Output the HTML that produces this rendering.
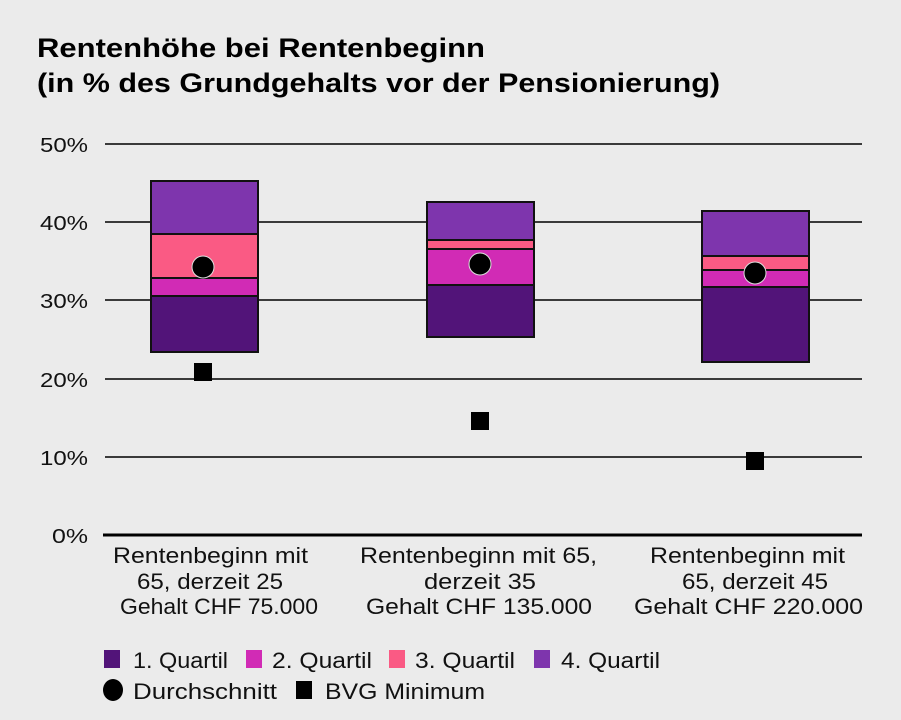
<!DOCTYPE html>
<html><head><meta charset="utf-8"><style>
html,body{margin:0;padding:0;background:#ebebeb;}
svg{display:block;font-family:"Liberation Sans",sans-serif;}
</style></head><body>
<svg width="901" height="720" viewBox="0 0 901 720" xmlns="http://www.w3.org/2000/svg">
<rect width="901" height="720" fill="#ebebeb"/>
<text x="37" y="57" font-size="27" font-weight="bold" textLength="448" lengthAdjust="spacingAndGlyphs">Rentenhöhe bei Rentenbeginn</text>
<text x="37" y="92" font-size="27" font-weight="bold" textLength="683" lengthAdjust="spacingAndGlyphs">(in % des Grundgehalts vor der Pensionierung)</text>
<g stroke="#3a3a3a" stroke-width="2">
<line x1="105" y1="144" x2="862" y2="144"/>
<line x1="105" y1="222" x2="862" y2="222"/>
<line x1="105" y1="300" x2="862" y2="300"/>
<line x1="105" y1="379" x2="862" y2="379"/>
<line x1="105" y1="457" x2="862" y2="457"/>
</g>
<line x1="103" y1="535" x2="862" y2="535" stroke="#000" stroke-width="3"/>
<g font-size="20" fill="#111">
<text x="40" y="152" textLength="48" lengthAdjust="spacingAndGlyphs">50%</text>
<text x="40" y="230" textLength="48" lengthAdjust="spacingAndGlyphs">40%</text>
<text x="40" y="308" textLength="48" lengthAdjust="spacingAndGlyphs">30%</text>
<text x="40" y="387" textLength="48" lengthAdjust="spacingAndGlyphs">20%</text>
<text x="40" y="465" textLength="48" lengthAdjust="spacingAndGlyphs">10%</text>
<text x="52" y="543" textLength="36" lengthAdjust="spacingAndGlyphs">0%</text>
</g>
<g stroke="#111" stroke-width="2">
<rect x="151" y="296" width="107" height="56" fill="#521479"/>
<rect x="151" y="278" width="107" height="18" fill="#d12bb5"/>
<rect x="151" y="234" width="107" height="44" fill="#fa5a84"/>
<rect x="151" y="181" width="107" height="53" fill="#7e35ad"/>
<rect x="427" y="285" width="107" height="52" fill="#521479"/>
<rect x="427" y="249" width="107" height="36" fill="#d12bb5"/>
<rect x="427" y="240" width="107" height="9" fill="#fa5a84"/>
<rect x="427" y="202" width="107" height="38" fill="#7e35ad"/>
<rect x="702" y="287" width="107" height="75" fill="#521479"/>
<rect x="702" y="270" width="107" height="17" fill="#d12bb5"/>
<rect x="702" y="256" width="107" height="14" fill="#fa5a84"/>
<rect x="702" y="211" width="107" height="45" fill="#7e35ad"/>
</g>
<g fill="#000" stroke="#ddd" stroke-width="1">
<circle cx="203" cy="267" r="11"/>
<circle cx="480" cy="264" r="11"/>
<circle cx="755" cy="273" r="11"/>
</g>
<g fill="#000">
<rect x="194" y="363" width="18" height="18"/>
<rect x="471" y="412" width="18" height="18"/>
<rect x="746" y="452" width="18" height="18"/>
</g>
<g font-size="22" fill="#111">
<text x="113" y="563" textLength="195" lengthAdjust="spacingAndGlyphs">Rentenbeginn mit</text>
<text x="137" y="589" textLength="146" lengthAdjust="spacingAndGlyphs">65, derzeit 25</text>
<text x="120" y="614" textLength="198" lengthAdjust="spacingAndGlyphs">Gehalt CHF 75.000</text>
<text x="360" y="563" textLength="237" lengthAdjust="spacingAndGlyphs">Rentenbeginn mit 65,</text>
<text x="424" y="589" textLength="112" lengthAdjust="spacingAndGlyphs">derzeit 35</text>
<text x="366" y="614" textLength="226" lengthAdjust="spacingAndGlyphs">Gehalt CHF 135.000</text>
<text x="650" y="563" textLength="195" lengthAdjust="spacingAndGlyphs">Rentenbeginn mit</text>
<text x="682" y="589" textLength="146" lengthAdjust="spacingAndGlyphs">65, derzeit 45</text>
<text x="634" y="614" textLength="229" lengthAdjust="spacingAndGlyphs">Gehalt CHF 220.000</text>
</g>
<g font-size="22" fill="#111">
<rect x="104" y="650" width="16" height="18" fill="#521479"/>
<text x="133" y="668" textLength="95" lengthAdjust="spacingAndGlyphs">1. Quartil</text>
<rect x="246" y="650" width="16" height="18" fill="#d12bb5"/>
<text x="272" y="668" textLength="100" lengthAdjust="spacingAndGlyphs">2. Quartil</text>
<rect x="389" y="650" width="16" height="18" fill="#fa5a84"/>
<text x="415" y="668" textLength="100" lengthAdjust="spacingAndGlyphs">3. Quartil</text>
<rect x="534" y="650" width="16" height="18" fill="#7e35ad"/>
<text x="561" y="668" textLength="99" lengthAdjust="spacingAndGlyphs">4. Quartil</text>
<ellipse cx="113" cy="690" rx="10" ry="11" fill="#000"/>
<text x="133" y="699" textLength="144" lengthAdjust="spacingAndGlyphs">Durchschnitt</text>
<rect x="296" y="681" width="16" height="18" fill="#000"/>
<text x="325" y="699" textLength="160" lengthAdjust="spacingAndGlyphs">BVG Minimum</text>
</g>
</svg>
</body></html>
